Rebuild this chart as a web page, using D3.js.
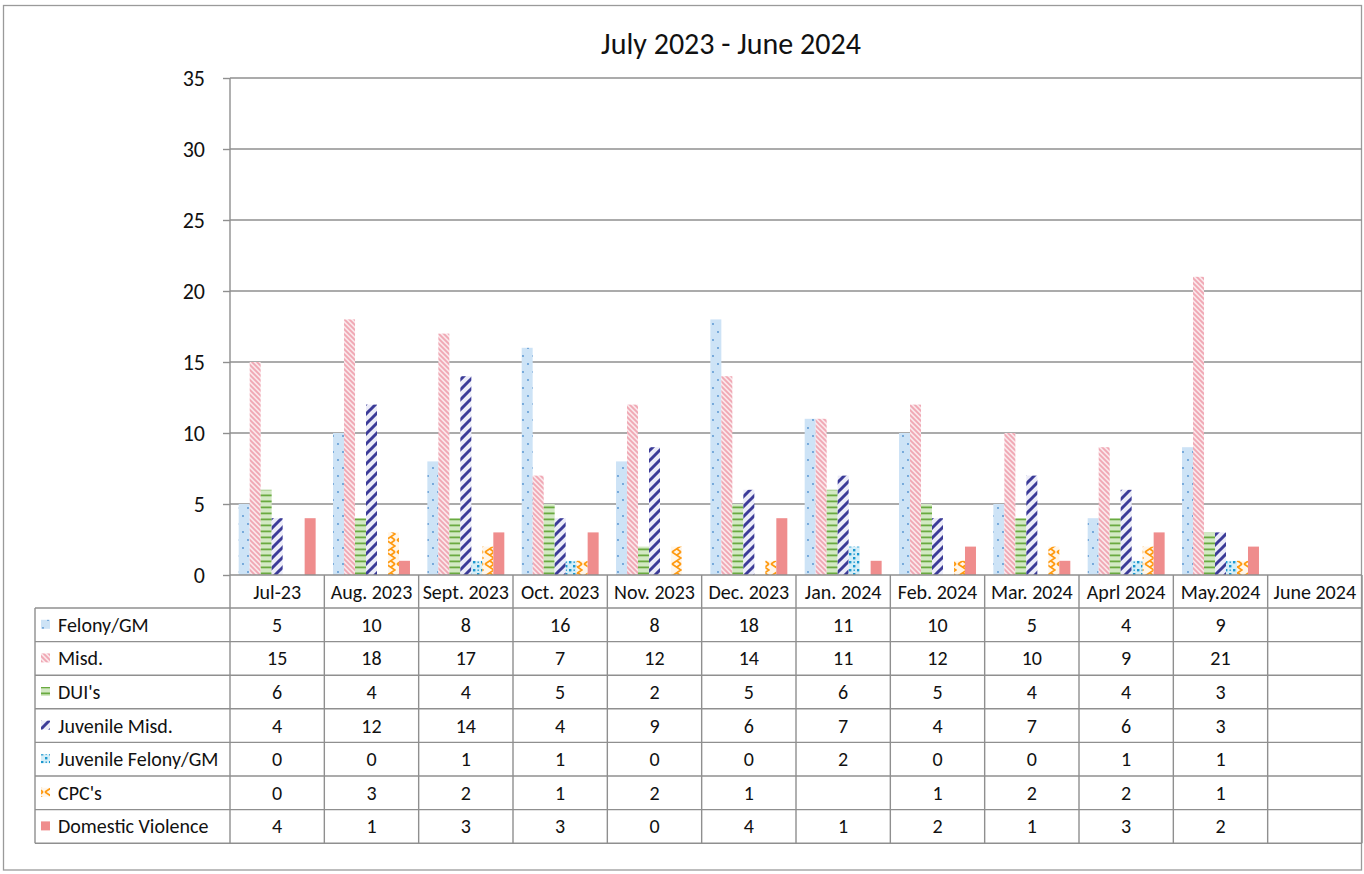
<!DOCTYPE html>
<html>
<head>
<meta charset="utf-8">
<script src="https://cdn.jsdelivr.net/npm/d3@7/dist/d3.min.js"></script>
<style>
  html, body { margin: 0; padding: 0; background: #fff; }
  svg { display: block; font-family: Carlito, Lato, "Liberation Sans", sans-serif; }
</style>
</head>
<body>
<svg id="chart" width="1364" height="874"></svg>
<script>
// ---------- DATA ----------
const title = "July 2023 - June 2024";
const categories = ["Jul-23", "Aug. 2023", "Sept. 2023", "Oct. 2023", "Nov. 2023", "Dec. 2023",
  "Jan. 2024", "Feb. 2024", "Mar. 2024", "Aprl 2024", "May.2024", "June 2024"];
const seriesNames = ["Felony/GM", "Misd.", "DUI's", "Juvenile Misd.", "Juvenile Felony/GM", "CPC's", "Domestic Violence"];
const felony      = [5, 10, 8, 16, 8, 18, 11, 10, 5, 4, 9, null];
const misd        = [15, 18, 17, 7, 12, 14, 11, 12, 10, 9, 21, null];
const dui         = [6, 4, 4, 5, 2, 5, 6, 5, 4, 4, 3, null];
const juvMisd     = [4, 12, 14, 4, 9, 6, 7, 4, 7, 6, 3, null];
const juvFelony   = [0, 0, 1, 1, 0, 0, 2, 0, 0, 1, 1, null];
const cpc         = [0, 3, 2, 1, 2, 1, null, 1, 2, 2, 1, null];
const domViolence = [4, 1, 3, 3, 0, 4, 1, 2, 1, 3, 2, null];
const yTicks = [0, 5, 10, 15, 20, 25, 30, 35];

const seriesValues = [felony, misd, dui, juvMisd, juvFelony, cpc, domViolence];
const patternIds = ["pFel", "pMisd", "pDui", "pJMisd", "pJFel", "pCpc", "pDv"];

// ---------- LAYOUT ----------
const svg = d3.select("#chart");
const plotLeft = 230, plotRight = 1362, plotTop = 78, plotBottom = 575;
const legendLeft = 35;
const headerH = 33, rowH = 33.6;
const gridColor = "#8f8f8f";

// ---------- PATTERNS ----------
const defs = svg.append("defs");
function pat(id, w, h) {
  return defs.append("pattern").attr("id", id).attr("patternUnits", "userSpaceOnUse")
    .attr("width", w).attr("height", h);
}
// Felony/GM: light blue with sparse dots
let p = pat("pFel", 10, 16);
p.append("rect").attr("width", 10).attr("height", 16).attr("fill", "#cde3f6");
p.append("circle").attr("cx", 3).attr("cy", 4).attr("r", 0.9).attr("fill", "#4f8fcf");
p.append("circle").attr("cx", 8).attr("cy", 12).attr("r", 0.9).attr("fill", "#4f8fcf");
// Misd.: pink diagonal stripes "\"
p = pat("pMisd", 5, 5);
p.append("rect").attr("width", 5).attr("height", 5).attr("fill", "#fbe6ea");
p.append("path").attr("d", "M-1,-1 L6,6 M-1,4 L1,6 M4,-1 L6,1").attr("stroke", "#f0a7b3").attr("stroke-width", 1.8);
// DUI's: green horizontal stripes
p = pat("pDui", 6, 6);
p.append("rect").attr("width", 6).attr("height", 6).attr("fill", "#d3e9c4");
p.append("rect").attr("y", 2.5).attr("width", 6).attr("height", 1.8).attr("fill", "#6aaa40");
// Juvenile Misd.: dark blue wide "/" stripes
p = pat("pJMisd", 10, 10);
p.append("rect").attr("width", 10).attr("height", 10).attr("fill", "#ececf8");
p.append("path").attr("d", "M-2,12 L12,-2 M-2,2 L2,-2 M8,12 L12,8").attr("stroke", "#3b3b98").attr("stroke-width", 3);
// Juvenile Felony/GM: teal confetti dots
p = pat("pJFel", 8, 8);
p.append("rect").attr("width", 8).attr("height", 8).attr("fill", "#d5eef8");
p.append("rect").attr("x", 1).attr("y", 1).attr("width", 2.4).attr("height", 2.4).attr("fill", "#1c98cf");
p.append("rect").attr("x", 5).attr("y", 5).attr("width", 2.4).attr("height", 2.4).attr("fill", "#1c98cf");
p.append("rect").attr("x", 5.5).attr("y", 1.5).attr("width", 1.4).attr("height", 1.4).attr("fill", "#1c98cf");
// CPC's: orange zigzag
p = pat("pCpc", 11, 12);
p.append("rect").attr("width", 11).attr("height", 12).attr("fill", "#fff6ea");
p.append("path").attr("d", "M1,0 L10,6 L1,12 M10,0 L6,3 M10,12 L6,9").attr("stroke", "#ff9a10").attr("stroke-width", 1.7).attr("fill", "none");
// Domestic Violence: solid salmon
p = pat("pDv", 4, 4);
p.append("rect").attr("width", 4).attr("height", 4).attr("fill", "#ef8d8d");

// ---------- SCALES ----------
const x = d3.scaleBand().domain(categories).range([plotLeft, plotRight]).paddingInner(0).paddingOuter(0);
const xs = d3.scaleBand().domain(seriesNames).range([0, x.bandwidth()]).paddingInner(0).paddingOuter(0.79);
const y = d3.scaleLinear().domain([0, 35]).range([plotBottom, plotTop]);

// ---------- OUTER BORDER ----------
svg.append("rect").attr("x", 3.5).attr("y", 5.5).attr("width", 1358).attr("height", 864.5)
  .attr("fill", "none").attr("stroke", "#9a9a9a").attr("stroke-width", 1.3);

// ---------- TITLE ----------
svg.append("text").attr("x", 731).attr("y", 54).attr("text-anchor", "middle")
  .attr("font-size", 30).attr("fill", "#111").text(title);

// ---------- GRID + Y AXIS ----------
const yAxis = d3.axisLeft(y).tickValues(yTicks).tickSize(7).tickPadding(18).tickFormat(d3.format("d"));
const gy = svg.append("g").attr("transform", `translate(${plotLeft},0)`).call(yAxis);
gy.attr("font-family", null).attr("font-size", null);
gy.select(".domain").attr("stroke", gridColor).attr("stroke-width", 1.4).attr("d", `M0,${plotTop}V${plotBottom}`);
gy.selectAll(".tick line").attr("stroke", gridColor).attr("stroke-width", 1.4);
gy.selectAll(".tick text").attr("font-size", 22).attr("fill", "#111").attr("dy", "0.35em");

svg.append("g").selectAll("line").data(yTicks.filter(t => t > 0)).join("line")
  .attr("x1", plotLeft).attr("x2", plotRight)
  .attr("y1", d => y(d)).attr("y2", d => y(d))
  .attr("stroke", gridColor).attr("stroke-width", 1.4);

// ---------- BARS ----------
const gBars = svg.append("g");
seriesNames.forEach((s, si) => {
  const vals = seriesValues[si];
  gBars.append("g").selectAll("rect")
    .data(categories.map((c, ci) => ({ c, v: vals[ci] })).filter(d => d.v != null && d.v > 0))
    .join("rect")
    .attr("x", d => x(d.c) + xs(s))
    .attr("width", xs.bandwidth())
    .attr("y", d => y(d.v))
    .attr("height", d => y(0) - y(d.v))
    .attr("fill", `url(#${patternIds[si]})`);
});

// ---------- DATA TABLE ----------
const tableTop = plotBottom;
const rowsTop = tableTop + headerH;
const tableBottom = rowsTop + rowH * seriesNames.length;
const gT = svg.append("g");
const lineColor = "#8f8f8f";

gT.append("line").attr("x1", plotLeft).attr("x2", plotRight).attr("y1", tableTop).attr("y2", tableTop)
  .attr("stroke", lineColor).attr("stroke-width", 1.4);
for (let r = 0; r <= seriesNames.length; r++) {
  const yy = rowsTop + r * rowH;
  gT.append("line").attr("x1", legendLeft).attr("x2", plotRight).attr("y1", yy).attr("y2", yy)
    .attr("stroke", lineColor).attr("stroke-width", 1.4);
}
gT.append("line").attr("x1", legendLeft).attr("x2", legendLeft).attr("y1", rowsTop).attr("y2", tableBottom)
  .attr("stroke", lineColor).attr("stroke-width", 1.4);
const colEdges = categories.map(c => x(c)).concat([plotRight]);
colEdges.forEach(cx => {
  gT.append("line").attr("x1", cx).attr("x2", cx).attr("y1", tableTop).attr("y2", tableBottom)
    .attr("stroke", lineColor).attr("stroke-width", 1.4);
});

gT.selectAll("text.hdr").data(categories).join("text").attr("class", "hdr")
  .attr("x", d => x(d) + x.bandwidth() / 2).attr("y", tableTop + headerH / 2 + 7)
  .attr("text-anchor", "middle").attr("font-size", 20).attr("fill", "#111").text(d => d);

seriesNames.forEach((s, si) => {
  const cy = rowsTop + si * rowH + rowH / 2;
  gT.append("rect").attr("x", 41).attr("y", cy - 5).attr("width", 9).attr("height", 9)
    .attr("fill", `url(#${patternIds[si]})`);
  gT.append("text").attr("x", 58).attr("y", cy + 7).attr("font-size", 20).attr("fill", "#111").text(s);
  const vals = seriesValues[si];
  categories.forEach((c, ci) => {
    if (vals[ci] == null) return;
    gT.append("text").attr("x", x(c) + x.bandwidth() / 2).attr("y", cy + 7)
      .attr("text-anchor", "middle").attr("font-size", 20).attr("fill", "#111").text(vals[ci]);
  });
});
</script>
</body>
</html>
